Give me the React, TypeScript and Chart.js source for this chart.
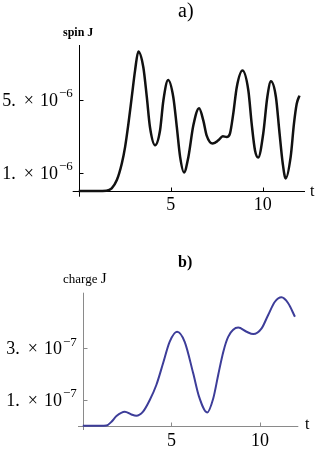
import { useEffect, useRef } from 'react';
import { Chart, registerables } from 'chart.js';
Chart.register(...registerables);

// ---- data ----
const spinT = [0, 1.0, 1.5, 1.79, 2.07, 2.34, 2.52, 2.7, 2.88, 3.06, 3.24, 3.51, 3.7, 3.87, 4.15, 4.42, 4.6, 4.86, 5.14, 5.33, 5.51, 5.72, 5.96, 6.23, 6.54, 6.77, 6.95, 7.28, 7.59, 7.83, 8.04, 8.22, 8.4, 8.59, 8.9, 9.22, 9.4, 9.58, 9.76, 10.03, 10.25, 10.45, 10.72, 10.9, 11.09, 11.25, 11.52, 11.7, 11.85, 12.0];
const spinJ = [0, 0, 0.02e-6, 0.15e-6, 0.6e-6, 1.51e-6, 2.42e-6, 3.69e-6, 5.14e-6, 6.6e-6, 7.65e-6, 6.78e-6, 5.14e-6, 3.51e-6, 2.51e-6, 3.33e-6, 4.96e-6, 6.08e-6, 5.14e-6, 3.51e-6, 1.87e-6, 1.02e-6, 1.87e-6, 3.6e-6, 4.54e-6, 3.87e-6, 3.05e-6, 2.6e-6, 2.78e-6, 3.0e-6, 2.96e-6, 3.15e-6, 4.24e-6, 5.69e-6, 6.6e-6, 5.51e-6, 3.69e-6, 2.24e-6, 1.84e-6, 3.15e-6, 5.14e-6, 6.01e-6, 5.14e-6, 3.33e-6, 1.51e-6, 0.69e-6, 1.87e-6, 3.69e-6, 4.78e-6, 5.23e-6];

const chargeT = [0, 1.0, 1.33, 1.62, 1.9, 2.37, 2.74, 3.02, 3.4, 3.78, 4.15, 4.53, 4.9, 5.32, 5.75, 6.23, 6.55, 7.02, 7.36, 7.64, 7.93, 8.21, 8.77, 9.24, 9.62, 10.09, 10.46, 10.84, 11.21, 11.59, 11.97];
const chargeJ = [0, 0, 0.01e-7, 0.16e-7, 0.38e-7, 0.55e-7, 0.44e-7, 0.39e-7, 0.55e-7, 1.0e-7, 1.58e-7, 2.42e-7, 3.25e-7, 3.64e-7, 3.25e-7, 2.03e-7, 1.15e-7, 0.52e-7, 1.06e-7, 1.97e-7, 2.87e-7, 3.45e-7, 3.8e-7, 3.64e-7, 3.55e-7, 3.77e-7, 4.29e-7, 4.8e-7, 4.97e-7, 4.74e-7, 4.22e-7];

const xTicks = [5, 10];
const xTickLabels = ['5', '10'];
const spinYTicks = [1e-6, 5e-6];
const spinYMantissas = ['1.', '5.'];
const spinYExponent = '\u22126';
const chargeYTicks = [1e-7, 3e-7];
const chargeYMantissas = ['1.', '3.'];
const chargeYExponent = '\u22127';

const SERIF = '"Liberation Serif", "Times New Roman", serif';

type PanelCfg = {
  t: number[];
  v: number[];
  color: string;
  lineWidth: number;
  axisColor: string;
  xMin: number; xMax: number; yMin: number; yMax: number;
  padding: { left: number; right: number; top: number; bottom: number };
  yTicks: number[]; yMantissas: string[]; yExponent: string;
  title: string; titleFont: string; titleX: number; titleY: number;
  axisLabel: { text: string; font: string }[]; axisLabelX: number; axisLabelY: number;
  tX: number; tDy: number; xLabelDy: number;
};

function drawSci(ctx: CanvasRenderingContext2D, mant: string, exp: string, right: number, y: number) {
  const big = '18px ' + SERIF;
  const small = '13px ' + SERIF;
  ctx.font = big;
  const wm = ctx.measureText(mant).width;
  const wx = ctx.measureText('\u00d7').width;
  const wt = ctx.measureText('10').width;
  ctx.font = small;
  const we = ctx.measureText(exp).width;
  const g1 = 8, g2 = 6, g3 = 1;
  const total = wm + g1 + wx + g2 + wt + g3 + we;
  let x = right - total;
  const base = y + 6.2;
  ctx.font = big;
  ctx.textAlign = 'left';
  ctx.textBaseline = 'alphabetic';
  ctx.fillText(mant, x, base); x += wm + g1;
  ctx.fillText('\u00d7', x, base); x += wx + g2;
  ctx.fillText('10', x, base); x += wt + g3;
  ctx.font = small;
  ctx.fillText(exp, x, base - 8.8);
}

function makePlugin(cfg: PanelCfg) {
  return {
    id: 'mathAxes',
    beforeDatasetsDraw(chart: any) {
      const ctx = chart.ctx as CanvasRenderingContext2D;
      const xs = chart.scales.x, ys = chart.scales.y;
      const ca = chart.chartArea;
      const ax = Math.round(xs.getPixelForValue(0)) + 0.5;
      const ay = Math.round(ys.getPixelForValue(0)) + 0.5;
      ctx.save();
      ctx.strokeStyle = cfg.axisColor;
      ctx.lineWidth = 1;
      ctx.beginPath();
      ctx.moveTo(ca.left, ay); ctx.lineTo(ca.right, ay);
      ctx.moveTo(ax, ca.top); ctx.lineTo(ax, ca.bottom);
      xTicks.forEach((tv) => {
        const px = Math.round(xs.getPixelForValue(tv)) + 0.5;
        ctx.moveTo(px, ay); ctx.lineTo(px, ay - 4);
      });
      cfg.yTicks.forEach((tv) => {
        const py = Math.round(ys.getPixelForValue(tv)) + 0.5;
        ctx.moveTo(ax, py); ctx.lineTo(ax + 4, py);
      });
      ctx.stroke();
      ctx.restore();
    },
    afterDraw(chart: any) {
      const ctx = chart.ctx as CanvasRenderingContext2D;
      const xs = chart.scales.x, ys = chart.scales.y;
      const ax = xs.getPixelForValue(0);
      const ay = ys.getPixelForValue(0);
      ctx.save();
      ctx.fillStyle = '#000';
      cfg.yTicks.forEach((tv, i) => {
        drawSci(ctx, cfg.yMantissas[i], cfg.yExponent, ax - 6, ys.getPixelForValue(tv));
      });
      ctx.font = '18px ' + SERIF;
      ctx.textAlign = 'center';
      ctx.textBaseline = 'alphabetic';
      xTicks.forEach((tv, i) => {
        ctx.fillText(xTickLabels[i], xs.getPixelForValue(tv), ay + cfg.xLabelDy);
      });
      ctx.font = '16px ' + SERIF;
      ctx.textAlign = 'left';
      ctx.fillText('t', cfg.tX, ay + cfg.tDy);
      ctx.font = cfg.titleFont;
      ctx.fillText(cfg.title, cfg.titleX, cfg.titleY);
      let x = cfg.axisLabelX;
      cfg.axisLabel.forEach((p) => {
        ctx.font = p.font;
        ctx.fillText(p.text, x, cfg.axisLabelY);
        x += ctx.measureText(p.text).width;
      });
      ctx.restore();
    },
  };
}

function Panel({ cfg, top }: { cfg: PanelCfg; top: number }) {
  const ref = useRef<HTMLCanvasElement>(null);
  useEffect(() => {
    if (!ref.current) return;
    const data = cfg.t.map((t, i) => ({ x: t, y: cfg.v[i] }));
    const chart = new Chart(ref.current, {
      type: 'line',
      data: {
        datasets: [{
          data,
          borderColor: cfg.color,
          borderWidth: cfg.lineWidth,
          pointRadius: 0,
          fill: false,
          cubicInterpolationMode: 'monotone',
        }],
      },
      options: {
        responsive: false,
        animation: false,
        devicePixelRatio: 1,
        layout: { padding: cfg.padding },
        plugins: { legend: { display: false }, tooltip: { enabled: false }, title: { display: false } },
        scales: {
          x: { type: 'linear', min: cfg.xMin, max: cfg.xMax, display: false },
          y: { type: 'linear', min: cfg.yMin, max: cfg.yMax, display: false },
        },
      },
      plugins: [makePlugin(cfg)],
    } as any);
    return () => chart.destroy();
  }, [cfg]);
  return (
    <canvas ref={ref} width={316} height={226}
      style={{ position: 'absolute', left: 0, top, width: 316, height: 226 }} />
  );
}

const spinCfg: PanelCfg = {
  t: spinT, v: spinJ, color: '#111111', lineWidth: 2.5, axisColor: '#000000',
  xMin: -0.33, xMax: 12.3, yMin: -0.31e-6, yMax: 8e-6,
  padding: { left: 72.7, right: 11, top: 45, bottom: 29.3 },
  yTicks: spinYTicks, yMantissas: spinYMantissas, yExponent: spinYExponent,
  title: 'a)', titleFont: '20px ' + SERIF, titleX: 178, titleY: 17,
  axisLabel: [{ text: 'spin J', font: 'bold 12px ' + SERIF }], axisLabelX: 63, axisLabelY: 36,
  tX: 310, tDy: 4.5, xLabelDy: 19,
};

const chargeCfg: PanelCfg = {
  t: chargeT, v: chargeJ, color: '#3d3d99', lineWidth: 2, axisColor: '#8a8a8a',
  xMin: -0.27, xMax: 12.16, yMin: -0.16e-7, yMax: 5.15e-7,
  padding: { left: 78, right: 17.7, top: 66.7, bottom: 22 },
  yTicks: chargeYTicks, yMantissas: chargeYMantissas, yExponent: chargeYExponent,
  title: 'b)', titleFont: 'bold 16px ' + SERIF, titleX: 178, titleY: 41,
  axisLabel: [{ text: 'charge ', font: '13px ' + SERIF }, { text: 'J', font: '15px ' + SERIF }], axisLabelX: 63, axisLabelY: 57,
  tX: 305, tDy: 3.5, xLabelDy: 20.5,
};

export default function App() {
  return (
    <div style={{ position: 'fixed', left: 0, top: 0, width: 316, height: 452, background: '#fff' }}>
      <Panel cfg={spinCfg} top={0} />
      <Panel cfg={chargeCfg} top={226} />
    </div>
  );
}
